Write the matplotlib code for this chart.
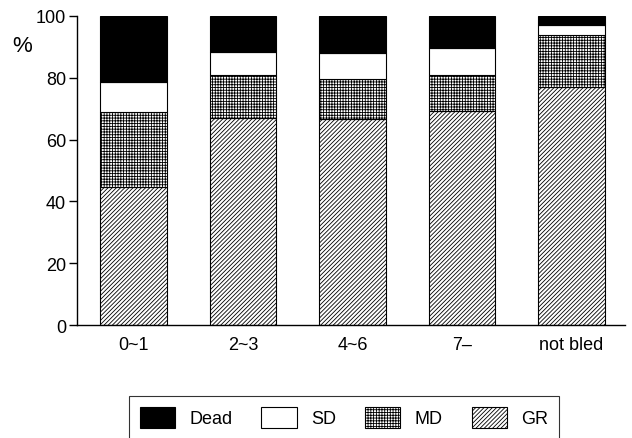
import matplotlib
matplotlib.use("Agg")
import matplotlib.pyplot as plt
import numpy as np

plt.rcParams['font.family'] = ['Liberation Sans', 'DejaVu Sans']
plt.rcParams['hatch.linewidth'] = 0.6

groups = ['0~1', '2~3', '4~6', '7\u2013', 'not bled']
# percentages for each outcome, stacked from bottom
gr = [44.5, 67.0, 66.8, 69.3, 77.0]
md = [24.5, 14.0, 12.8, 11.7, 16.9]
sd = [9.7, 7.3, 8.4, 8.6, 3.1]
dead = [21.3, 11.7, 12.0, 10.4, 3.0]

x = np.arange(len(groups))
w = 0.61

fig = plt.figure(figsize=(6.32, 4.39), dpi=100)
ax = fig.add_axes([0.122, 0.2574, 0.867, 0.7039])

b1 = ax.bar(x, gr, w, color='white', edgecolor='black', hatch='////////', linewidth=0.8)
b2 = ax.bar(x, md, w, bottom=gr, color='white', edgecolor='black', hatch='++++++', linewidth=0.8)
bot = np.array(gr) + np.array(md)
b3 = ax.bar(x, sd, w, bottom=bot, color='white', edgecolor='black', linewidth=0.8)
bot = bot + np.array(sd)
b4 = ax.bar(x, dead, w, bottom=bot, color='black', edgecolor='black', linewidth=0.8)

ax.set_xlim(-0.515, 4.49)
ax.set_ylim(0, 100)
ax.set_yticks([0, 20, 40, 60, 80, 100])
ax.set_xticks(x)
ax.set_xticklabels(groups)
ax.tick_params(axis='x', length=0, pad=8, labelsize=13)
ax.tick_params(axis='y', direction='out', length=6, width=1, labelsize=13, pad=2)
ax.spines['top'].set_visible(False)
ax.spines['right'].set_visible(False)
ax.spines['left'].set_linewidth(1)
ax.spines['bottom'].set_linewidth(1)

fig.text(0.02, 0.882, '%', fontsize=16)

leg = fig.legend([b4, b3, b2, b1], ['Dead', 'SD', 'MD', 'GR'], ncol=4,
                 loc='upper left', bbox_to_anchor=(0.204, 0.0957),
                 borderaxespad=0, fontsize=13, frameon=True, fancybox=False,
                 edgecolor='black', handlelength=1.95, handleheight=1.4,
                 handletextpad=0.8, borderpad=0.6, columnspacing=1.6)
leg.get_frame().set_linewidth(0.8)

fig.savefig('out.png', dpi=100)
